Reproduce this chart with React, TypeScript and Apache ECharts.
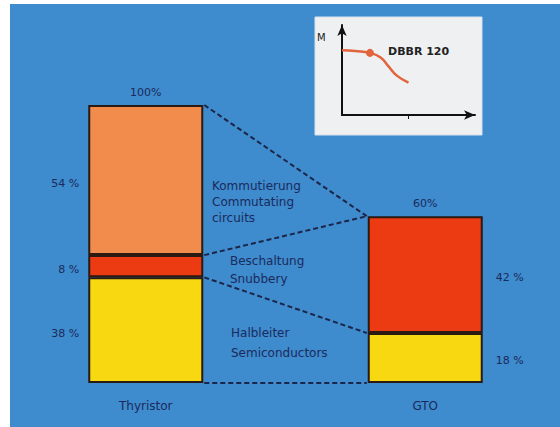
import React, { useEffect, useRef } from "react";
import * as echarts from "echarts";

const categories = ["Thyristor", "GTO"];
const semiconductors = [38, 18];
const snubbers = [8, 42];
const commutating = [54, 0];
const totals = [100, 60];
// dashed connector links: [value at Thyristor, value at GTO]
const links = [
  [100, 60],
  [46, 60],
  [38, 18],
  [0, 0],
];
// inset torque curve
const curveX = [0, 1.0, 2.1, 2.9, 3.5, 4.1, 5.0];
const curveY = [7.2, 7.1, 6.9, 6.4, 5.4, 4.4, 3.6];
const dotIndex = 2;

const TEXT = "#1b2a5c";
const FONT = "DejaVu Sans";
const BAR_W = 115;

export default function App() {
  const ref = useRef<HTMLDivElement>(null);
  useEffect(() => {
    if (!ref.current) return;
    const chart = echarts.init(ref.current, undefined, { renderer: "svg" });
    const border = { borderColor: "#2a1a12", borderWidth: 2 };
    const segLabel = (v: number, i: number) =>
      v > 0
        ? {
            value: v,
            label: {
              show: true,
              position: i === 0 ? "left" : "right",
              distance: i === 0 ? 9 : 13,
              offset: [0, 3],
              formatter: `${v} %`,
              color: TEXT,
              fontSize: 11,
              fontFamily: FONT,
            },
          }
        : { value: v, itemStyle: { borderWidth: 0 } };
    chart.setOption({
      animation: false,
      backgroundColor: "#3e8bcd",
      grid: [
        { left: 6, width: 559, top: 105, bottom: 44 },
        { left: 342, top: 25, width: 133, height: 90 },
      ],
      xAxis: [
        {
          type: "category",
          gridIndex: 0,
          data: categories,
          axisLine: { show: false },
          axisTick: { show: false },
          axisLabel: { color: TEXT, fontSize: 12, fontFamily: FONT, margin: 17 },
        },
        {
          type: "value",
          gridIndex: 1,
          min: 0,
          max: 10,
          splitLine: { show: false },
          axisLabel: { show: false },
          axisTick: { show: true, customValues: [5], length: 4, inside: false, lineStyle: { color: "#111" } },
          axisLine: { show: true, symbol: ["none", "arrow"], symbolSize: [7, 11], lineStyle: { color: "#111", width: 2 } },
        },
      ],
      yAxis: [
        { type: "value", gridIndex: 0, min: 0, max: 100, show: false },
        {
          type: "value",
          gridIndex: 1,
          min: 0,
          max: 10,
          splitLine: { show: false },
          axisLabel: { show: false },
          axisTick: { show: false },
          axisLine: { show: true, symbol: ["none", "arrow"], symbolSize: [7, 11], lineStyle: { color: "#111", width: 2 } },
        },
      ],
      graphic: [
        { type: "rect", shape: { x: 0, y: 0, width: 10, height: 427 }, style: { fill: "#ffffff" } },
        { type: "rect", shape: { x: 0, y: 0, width: 570, height: 4 }, style: { fill: "#ffffff" } },
        {
          type: "rect",
          z: -1,
          shape: { x: 315, y: 17, width: 167, height: 118 },
          style: { fill: "#eef0f2", stroke: "#d5e2ee", lineWidth: 1 },
        },
        { type: "text", x: 317, y: 32, style: { text: "M", fill: "#222", font: `10px ${FONT}` } },
        { type: "text", x: 388, y: 46, style: { text: "DBBR 120", fill: "#222", font: `bold 11px ${FONT}` } },
        {
          type: "text",
          x: 212,
          y: 178,
          style: { text: "Kommutierung\nCommutating\ncircuits", fill: TEXT, font: `12px ${FONT}`, lineHeight: 16 },
        },
        {
          type: "text",
          x: 230,
          y: 252,
          style: { text: "Beschaltung\nSnubbery", fill: TEXT, font: `12px ${FONT}`, lineHeight: 18 },
        },
        {
          type: "text",
          x: 231,
          y: 323,
          style: { text: "Halbleiter\nSemiconductors", fill: TEXT, font: `12px ${FONT}`, lineHeight: 20 },
        },
      ],
      series: [
        {
          type: "bar",
          stack: "a",
          barWidth: BAR_W,
          itemStyle: { color: "#f7d811", ...border },
          data: semiconductors.map(segLabel),
        },
        {
          type: "bar",
          stack: "a",
          barWidth: BAR_W,
          itemStyle: { color: "#ec3b12", ...border },
          data: snubbers.map(segLabel),
        },
        {
          type: "bar",
          stack: "a",
          barWidth: BAR_W,
          itemStyle: { color: "#f28c4c", ...border },
          data: commutating.map(segLabel),
        },
        {
          type: "bar",
          stack: "a",
          barWidth: BAR_W,
          itemStyle: { color: "transparent", borderWidth: 0 },
          label: {
            show: true,
            position: "top",
            distance: 7,
            color: TEXT,
            fontSize: 11,
            fontFamily: FONT,
            formatter: (p: any) => `${totals[p.dataIndex]}%`,
          },
          data: totals.map(() => 0),
        },
        {
          type: "custom",
          xAxisIndex: 0,
          yAxisIndex: 0,
          z: 5,
          encode: { x: 0, y: 1 },
          data: links.map(([a, b]) => [0, a, b]),
          renderItem: (_params: any, api: any) => {
            const p1 = api.coord([0, api.value(1)]);
            const p2 = api.coord([1, api.value(2)]);
            return {
              type: "line",
              shape: { x1: p1[0] + BAR_W / 2 + 1, y1: p1[1], x2: p2[0] - BAR_W / 2 - 1, y2: p2[1] },
              style: { stroke: "#1c2648", lineWidth: 2, lineDash: [5, 3] },
            };
          },
        },
        {
          type: "line",
          xAxisIndex: 1,
          yAxisIndex: 1,
          smooth: true,
          symbol: "none",
          lineStyle: { color: "#e2643c", width: 2.5 },
          data: curveX.map((x, i) =>
            i === dotIndex
              ? { value: [x, curveY[i]], symbol: "circle", symbolSize: 8, itemStyle: { color: "#e2643c" } }
              : [x, curveY[i]]
          ),
        },
      ],
    });
    return () => chart.dispose();
  }, []);
  return (
    <div
      ref={ref}
      style={{ position: "fixed", left: 0, top: 0, width: 566, height: 427 }}
    />
  );
}
